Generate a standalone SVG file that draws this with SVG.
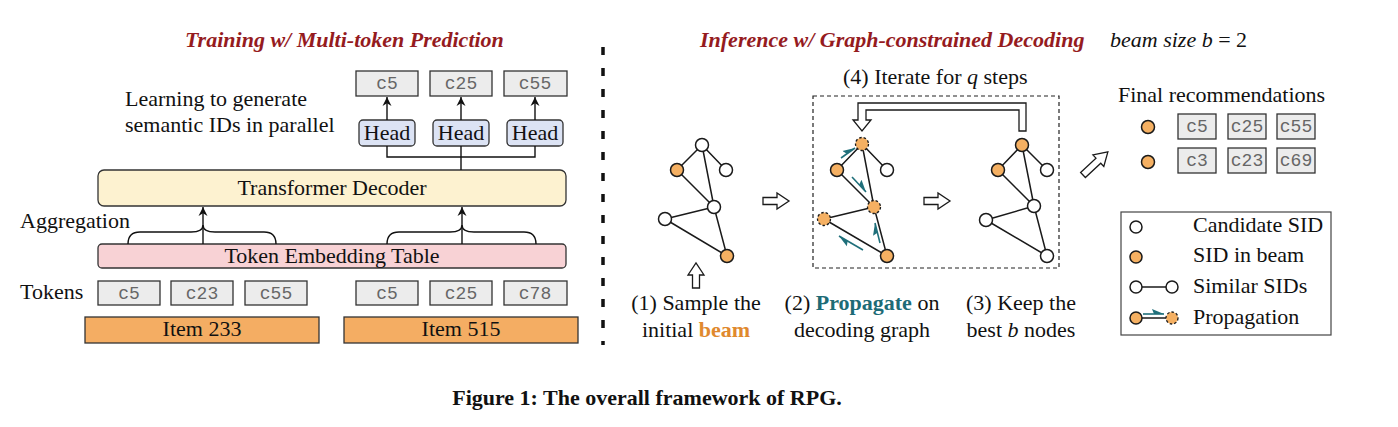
<svg xmlns="http://www.w3.org/2000/svg" width="1398" height="427" viewBox="0 0 1398 427">
<defs>
<style>
.t{font-family:"Liberation Serif","Times New Roman",serif;font-size:22px;fill:#111}
.mono{font-family:"Liberation Mono","Courier New",monospace;font-size:18px;fill:#666}
.title{font-family:"Liberation Serif","Times New Roman",serif;font-size:22px;font-style:italic;font-weight:bold;fill:#951b1e}
.tok{fill:#ececec;stroke:#333;stroke-width:1.3}
.edge{stroke:#1a1a1a;stroke-width:1.5;fill:none}
.nw{fill:#fff;stroke:#1a1a1a;stroke-width:1.5}
.no{fill:#f5b062;stroke:#1a1a1a;stroke-width:1.5}
.nd{fill:#f5b062;stroke:#1a1a1a;stroke-width:1.3;stroke-dasharray:2.5 2}
.hollow{fill:#fff;stroke:#1a1a1a;stroke-width:1.3;stroke-linejoin:miter}
.prop{stroke:#1f6f7a;stroke-width:1.6;fill:none;marker-end:url(#harp)}
.arr{stroke:#111;stroke-width:1.4;fill:none;marker-end:url(#ah)}
.line{stroke:#111;stroke-width:1.4;fill:none}
</style>
<marker id="ah" viewBox="0 0 10 10" refX="10" refY="5" markerWidth="9" markerHeight="10" markerUnits="userSpaceOnUse" orient="auto"><path d="M0,0 L10,5 L0,10 L3,5 Z" fill="#111"/></marker>
<marker id="harp" viewBox="0 -6 12 7" refX="12" refY="0" markerWidth="12" markerHeight="7" markerUnits="userSpaceOnUse" orient="auto"><path d="M0,-5 L12,0 L2,0 Z" fill="#1f6f7a"/></marker>
</defs>
<rect width="1398" height="427" fill="#fff"/>

<!-- Titles -->
<text class="title" x="185" y="47">Training w/ Multi-token Prediction</text>
<text class="title" x="700" y="47">Inference w/ Graph-constrained Decoding</text>
<text class="t" x="1110" y="47"><tspan font-style="italic">beam size b</tspan> = 2</text>

<!-- Divider -->
<line x1="603" y1="47" x2="603" y2="345" stroke="#111" stroke-width="3.5" stroke-dasharray="8 13"/>

<!-- Left panel -->
<text class="t" x="125" y="106">Learning to generate</text>
<text class="t" x="125" y="132">semantic IDs in parallel</text>

<g id="out-c5"><rect class="tok" x="356" y="71" width="62" height="25"/><text class="mono" x="387" y="89" text-anchor="middle">c5</text></g>
<g id="out-c25"><rect class="tok" x="430" y="71" width="62" height="25"/><text class="mono" x="461" y="89" text-anchor="middle">c25</text></g>
<g id="out-c55"><rect class="tok" x="504" y="71" width="63" height="25"/><text class="mono" x="535" y="89" text-anchor="middle">c55</text></g>

<g id="head1"><rect x="359" y="120" width="56" height="26" rx="4" fill="#dce3f4" stroke="#333" stroke-width="1.3"/><text class="t" x="387" y="140" text-anchor="middle">Head</text></g>
<g id="head2"><rect x="433" y="120" width="56" height="26" rx="4" fill="#dce3f4" stroke="#333" stroke-width="1.3"/><text class="t" x="461" y="140" text-anchor="middle">Head</text></g>
<g id="head3"><rect x="507" y="120" width="56" height="26" rx="4" fill="#dce3f4" stroke="#333" stroke-width="1.3"/><text class="t" x="535" y="140" text-anchor="middle">Head</text></g>

<g id="transformer"><rect x="98" y="170" width="468" height="36" rx="6" fill="#fdf2d0" stroke="#333" stroke-width="1.3"/><text class="t" x="332" y="195" text-anchor="middle">Transformer Decoder</text></g>

<text class="t" x="20" y="228">Aggregation</text>

<g id="embedding"><rect x="98" y="244" width="468" height="24" rx="4" fill="#f8d2d5" stroke="#333" stroke-width="1.3"/><text class="t" x="332" y="263" text-anchor="middle">Token Embedding Table</text></g>

<text class="t" x="20" y="299">Tokens</text>
<g id="tok-l1"><rect class="tok" x="98" y="281" width="62" height="24"/><text class="mono" x="129" y="299" text-anchor="middle">c5</text></g>
<g id="tok-l2"><rect class="tok" x="171" y="281" width="62" height="24"/><text class="mono" x="202" y="299" text-anchor="middle">c23</text></g>
<g id="tok-l3"><rect class="tok" x="245" y="281" width="62" height="24"/><text class="mono" x="276" y="299" text-anchor="middle">c55</text></g>
<g id="tok-r1"><rect class="tok" x="356" y="281" width="62" height="24"/><text class="mono" x="387" y="299" text-anchor="middle">c5</text></g>
<g id="tok-r2"><rect class="tok" x="430" y="281" width="62" height="24"/><text class="mono" x="461" y="299" text-anchor="middle">c25</text></g>
<g id="tok-r3"><rect class="tok" x="504" y="281" width="63" height="24"/><text class="mono" x="535" y="299" text-anchor="middle">c78</text></g>

<g id="item233"><rect x="85" y="317" width="234" height="26" fill="#f4ad63" stroke="#333" stroke-width="1.3"/><text class="t" x="202" y="336" text-anchor="middle">Item 233</text></g>
<g id="item515"><rect x="344" y="317" width="234" height="26" fill="#f4ad63" stroke="#333" stroke-width="1.3"/><text class="t" x="461" y="336" text-anchor="middle">Item 515</text></g>

<!-- Middle panel texts -->
<text class="t" x="843" y="84">(4) Iterate for <tspan font-style="italic">q</tspan> steps</text>
<rect id="iterate-box" x="813" y="96" width="246" height="172" fill="none" stroke="#222" stroke-width="1.2" stroke-dasharray="4 3"/>

<text class="t" x="696" y="310" text-anchor="middle">(1) Sample the</text>
<text class="t" x="696" y="337" text-anchor="middle">initial <tspan font-weight="bold" fill="#e0892e">beam</tspan></text>
<text class="t" x="862" y="310" text-anchor="middle">(2) <tspan font-weight="bold" fill="#1d6b76">Propagate</tspan> on</text>
<text class="t" x="862" y="337" text-anchor="middle">decoding graph</text>
<text class="t" x="1021" y="310" text-anchor="middle">(3) Keep the</text>
<text class="t" x="1021" y="337" text-anchor="middle">best <tspan font-style="italic">b</tspan> nodes</text>

<!-- Connectors -->
<g id="connectors">
  <line class="arr" x1="387" y1="120" x2="387" y2="97"/>
  <line class="arr" x1="461" y1="120" x2="461" y2="97"/>
  <line class="arr" x1="535" y1="120" x2="535" y2="97"/>
  <path class="line" d="M387,146 V157 H535 V146 M461,146 V170"/>
  <path class="line" d="M128,244 Q128,232 140,232 L191,232 Q203,232 203,225 Q203,232 215,232 L264,232 Q276,232 276,244"/>
  <line class="arr" x1="203" y1="244" x2="203" y2="207"/>
  <path class="line" d="M387,244 Q387,232 399,232 L450,232 Q462,232 462,225 Q462,232 474,232 L524,232 Q536,232 536,244"/>
  <line class="arr" x1="462" y1="244" x2="462" y2="207"/>

  <!-- graph 1 edges -->
  <path class="edge" d="M702,145 L677,170 M702,145 L726,170 M702,145 L714,207 M677,170 L714,207 M714,207 L665,219 M714,207 L727,256 M665,219 L727,256"/>
  <!-- graph 2 edges -->
  <path class="edge" d="M862,144 L837,170 M862,144 L887,170 M862,144 L874,207 M837,170 L874,207 M874,207 L824,219 M874,207 L887,256 M824,219 L887,256"/>
  <!-- graph 3 edges -->
  <path class="edge" d="M1022,145 L998,170 M1022,145 L1047,170 M1022,145 L1034,206 M998,170 L1034,206 M1034,206 L986,220 M1034,206 L1047,256 M986,220 L1047,256"/>
  <!-- propagation -->
  <line class="prop" x1="841" y1="158" x2="855" y2="148"/>
  <line class="prop" x1="852" y1="177" x2="866" y2="192"/>
  <line class="prop" x1="880" y1="243" x2="875" y2="223"/>
  <line class="prop" x1="863" y1="250" x2="839" y2="236"/>

  <!-- hollow arrows -->
  <polygon class="hollow" points="763,197.5 777,197.5 777,193 789,201 777,209 777,204.5 763,204.5"/>
  <polygon class="hollow" points="924,197.5 938,197.5 938,193 950,201 938,209 938,204.5 924,204.5"/>
  <polygon class="hollow" points="692.5,288 692.5,275 688,275 696,263 704,275 699.5,275 699.5,288"/>
  <polygon class="hollow" points="1019,131 1026,131 1026,103 858,103 858,120 853,120 862,131 871,120 866,120 866,110 1019,110"/>
  <polygon class="hollow" transform="translate(1083,175) rotate(-43)" points="0,-3.5 21,-3.5 21,-8 34,0 21,8 21,3.5 0,3.5"/>
</g>

<!-- Graph 1 nodes -->
<g id="g1-nodes">
  <circle class="nw" cx="702" cy="145" r="6.5"/>
  <circle class="no" cx="677" cy="170" r="6.5"/>
  <circle class="nw" cx="726" cy="170" r="6.5"/>
  <circle class="nw" cx="714" cy="207" r="6.5"/>
  <circle class="nw" cx="665" cy="219" r="6.5"/>
  <circle class="no" cx="727" cy="256" r="6.5"/>
</g>
<!-- Graph 2 nodes -->
<g id="g2-nodes">
  <circle class="nd" cx="862" cy="144" r="6.5"/>
  <circle class="no" cx="837" cy="170" r="6.5"/>
  <circle class="nw" cx="887" cy="170" r="6.5"/>
  <circle class="nd" cx="874" cy="207" r="6.5"/>
  <circle class="nd" cx="824" cy="219" r="6.5"/>
  <circle class="no" cx="887" cy="256" r="6.5"/>
</g>
<!-- Graph 3 nodes -->
<g id="g3-nodes">
  <circle class="no" cx="1022" cy="145" r="6.5"/>
  <circle class="no" cx="998" cy="170" r="6.5"/>
  <circle class="nw" cx="1047" cy="170" r="6.5"/>
  <circle class="nw" cx="1034" cy="206" r="6.5"/>
  <circle class="nw" cx="986" cy="220" r="6.5"/>
  <circle class="nw" cx="1047" cy="256" r="6.5"/>
</g>

<!-- Final recommendations -->
<g id="final">
  <text class="t" x="1118" y="102">Final recommendations</text>
  <circle class="no" cx="1148" cy="127" r="6.5"/>
  <circle class="no" cx="1148" cy="162" r="6.5"/>
  <rect class="tok" x="1178" y="114" width="38" height="25"/><text class="mono" x="1197" y="132" text-anchor="middle">c5</text>
  <rect class="tok" x="1228" y="114" width="38" height="25"/><text class="mono" x="1247" y="132" text-anchor="middle">c25</text>
  <rect class="tok" x="1277" y="114" width="38" height="25"/><text class="mono" x="1296" y="132" text-anchor="middle">c55</text>
  <rect class="tok" x="1178" y="148" width="38" height="25"/><text class="mono" x="1197" y="166" text-anchor="middle">c3</text>
  <rect class="tok" x="1228" y="148" width="38" height="25"/><text class="mono" x="1247" y="166" text-anchor="middle">c23</text>
  <rect class="tok" x="1277" y="148" width="38" height="25"/><text class="mono" x="1296" y="166" text-anchor="middle">c69</text>
</g>

<!-- Legend -->
<g id="legend">
  <rect x="1121" y="212" width="210" height="123" fill="#fff" stroke="#444" stroke-width="1.2"/>
  <circle class="nw" cx="1136" cy="227" r="6"/>
  <text class="t" x="1193" y="232">Candidate SID</text>
  <circle class="no" cx="1136" cy="257" r="6"/>
  <text class="t" x="1193" y="262">SID in beam</text>
  <line class="edge" x1="1142" y1="287" x2="1166" y2="287"/>
  <circle class="nw" cx="1136" cy="287" r="6"/>
  <circle class="nw" cx="1172" cy="287" r="6"/>
  <text class="t" x="1193" y="293">Similar SIDs</text>
  <line class="edge" x1="1142" y1="318" x2="1166" y2="318"/>
  <line class="prop" x1="1143" y1="314" x2="1164" y2="314"/>
  <circle class="no" cx="1136" cy="318" r="6"/>
  <circle class="nd" cx="1172" cy="318" r="6"/>
  <text class="t" x="1193" y="324">Propagation</text>
</g>

<!-- Caption -->
<text x="647" y="405" text-anchor="middle" font-family="'Liberation Serif','Times New Roman',serif" font-weight="bold" font-size="22" fill="#111">Figure 1: The overall framework of RPG.</text>
</svg>
